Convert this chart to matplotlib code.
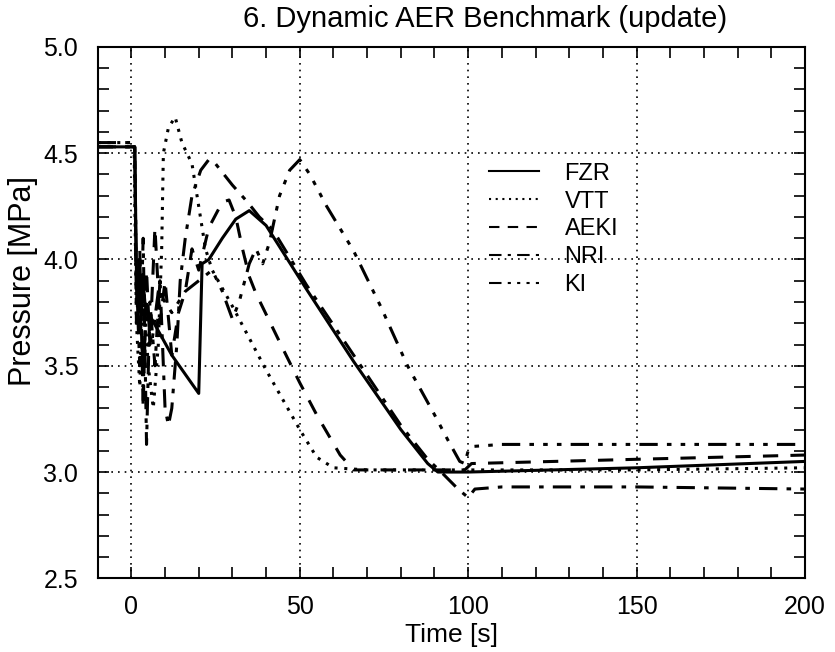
import numpy as np
import matplotlib
matplotlib.use("Agg")
import matplotlib.pyplot as plt
from matplotlib.ticker import MultipleLocator, FormatStrFormatter

# Data (time [s], pressure [MPa])
t_fzr = [-10, 1, 1.5, 2, 2.5, 3, 3.5, 4, 5, 12, 20, 21, 23, 27, 31, 35, 40,
         52, 66, 80, 88, 91, 100, 150, 200]
p_fzr = [4.53, 4.53, 3.95, 3.7, 4.0, 3.75, 3.9, 3.8, 3.75, 3.55, 3.37, 3.98,
         4.0, 4.1, 4.19, 4.23, 4.16, 3.86, 3.52, 3.2, 3.04, 3.0, 3.0, 3.02, 3.05]

t_vtt = [-10, 0.8, 1.5, 2.5, 3.5, 5, 6.5, 8, 9, 9.5, 11, 13, 15, 18, 20, 22,
         24, 30, 40, 50, 55, 60, 70, 100, 150, 200]
p_vtt = [4.55, 4.55, 3.7, 3.4, 3.9, 3.5, 3.3, 3.6, 4.05, 4.5, 4.62, 4.67,
         4.55, 4.45, 4.25, 4.05, 3.95, 3.78, 3.48, 3.2, 3.07, 3.02, 3.01,
         3.01, 3.01, 3.02]

t_aeki = [-10, 1, 1.5, 2.5, 3.5, 4.5, 5.5, 7, 8.5, 10, 12, 14, 16, 18, 20, 23,
          27, 29, 31, 33, 35, 37, 45, 50, 55, 62, 66, 80, 99, 101, 150, 200]
p_aeki = [4.53, 4.53, 3.8, 4.05, 3.3, 3.95, 3.6, 4.15, 3.7, 3.9, 3.55, 3.75,
          3.85, 4.05, 3.95, 4.15, 4.27, 4.28, 4.2, 4.05, 3.92, 3.84, 3.58,
          3.42, 3.27, 3.08, 3.01, 3.01, 3.01, 3.04, 3.06, 3.08]

t_nri = [-10, 1, 1.5, 2.5, 3.5, 4.5, 5.5, 7, 8.5, 10, 11, 12, 13.5, 14.5, 16,
         18, 20.6, 23, 24.5, 30, 34.5, 38, 42, 52, 66, 80, 88, 92, 97, 100,
         102, 110, 150, 200]
p_nri = [4.53, 4.53, 3.9, 3.5, 4.1, 3.13, 3.8, 3.5, 3.9, 3.3, 3.22, 3.3, 3.6,
         3.9, 4.1, 4.3, 4.42, 4.47, 4.46, 4.35, 4.27, 4.2, 4.14, 3.88, 3.55,
         3.22, 3.06, 3.0, 2.92, 2.88, 2.92, 2.93, 2.93, 2.92]

t_ki = [-10, 1, 1.5, 2.5, 3.5, 4.5, 6, 8, 12, 16, 20, 24, 27, 30, 32, 35, 37,
        39, 41, 44, 47, 50, 53, 58, 66, 74, 82, 90, 94, 97.5, 99, 100, 101,
        110, 150, 200]
p_ki = [4.55, 4.55, 3.7, 3.95, 3.4, 3.8, 3.6, 3.85, 3.75, 3.85, 3.9, 3.95,
        3.85, 3.72, 3.8, 3.98, 4.05, 3.98, 4.08, 4.3, 4.42, 4.47, 4.4, 4.25,
        4.04, 3.78, 3.5, 3.27, 3.15, 3.05, 3.04, 3.1, 3.12, 3.13, 3.13, 3.13]

plt.rcParams['font.family'] = ['Liberation Sans', 'DejaVu Sans']

fig = plt.figure(figsize=(8.35, 6.52), dpi=100)
ax = fig.add_axes([0.117, 0.113, 0.847, 0.815])

lw = 2.2
ax.plot(t_fzr, p_fzr, color='black', lw=lw, ls='-', label='FZR')
ax.plot(t_vtt, p_vtt, color='black', lw=lw, ls=(0, (1, 2.2)), label='VTT')
ax.plot(t_aeki, p_aeki, color='black', lw=lw, ls=(0, (5, 4)), label='AEKI')
ax.plot(t_nri, p_nri, color='black', lw=lw, ls=(0, (6, 3, 1.5, 3)), label='NRI')
ax.plot(t_ki, p_ki, color='black', lw=lw,
        ls=(0, (6, 3, 1.5, 3, 1.5, 3, 1.5, 3)), label='KI')

ax.set_xlim(-10, 200)
ax.set_ylim(2.5, 5.0)
ax.xaxis.set_major_locator(MultipleLocator(50))
ax.xaxis.set_minor_locator(MultipleLocator(10))
ax.yaxis.set_major_locator(MultipleLocator(0.5))
ax.yaxis.set_minor_locator(MultipleLocator(0.1))
ax.yaxis.set_major_formatter(FormatStrFormatter('%.1f'))
ax.tick_params(which='both', direction='in', top=True, right=True,
               length=8, width=1.2, labelsize=18)
ax.tick_params(axis='x', pad=12)
ax.tick_params(axis='y', pad=14)
ax.grid(True, which='major', color='black', ls=(0, (1, 3)), lw=1.2)
for s in ax.spines.values():
    s.set_linewidth(1.5)

ax.set_title('6. Dynamic AER Benchmark (update)', fontsize=21, pad=14, x=0.548)
ax.set_xlabel('Time [s]', fontsize=19, labelpad=3)
ax.set_ylabel('Pressure [MPa]', fontsize=22, labelpad=4, y=0.56)

leg = ax.legend(loc='upper left', bbox_to_anchor=(0.54, 0.80), frameon=False,
                fontsize=17, handlelength=2.1, labelspacing=0.25,
                handletextpad=1.1, borderaxespad=0)
for line in leg.get_lines():
    line.set_linewidth(1.5)

fig.savefig('out.png', dpi=100)
